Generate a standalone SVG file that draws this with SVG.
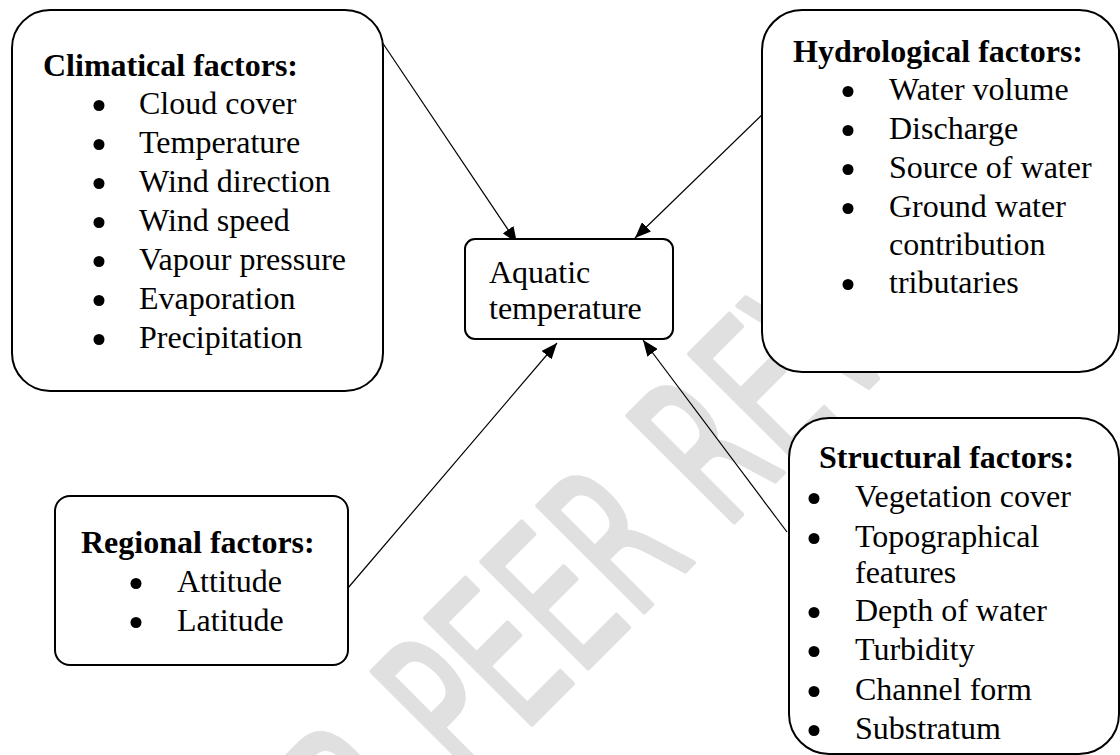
<svg xmlns="http://www.w3.org/2000/svg" width="1120" height="755" viewBox="0 0 1120 755">
<defs>
<style>
.box{fill:#fff;stroke:#000;stroke-width:2}
.t{font-family:"Liberation Serif","Times New Roman",serif;font-size:32px;fill:#000}
.b{font-weight:bold}
.dot{fill:#000}
.con{stroke:#000;stroke-width:1.2;fill:none;marker-end:url(#ah)}
.wm{font-family:"DejaVu Sans",sans-serif;font-size:206px;fill:#e0e0e0;stroke:#e0e0e0;stroke-width:5;stroke-linejoin:round}
</style>
<marker id="ah" markerUnits="userSpaceOnUse" markerWidth="17" markerHeight="13" refX="16" refY="6.5" orient="auto">
<path d="M0,0 L16,6.5 L0,13 z" fill="#000"/>
</marker>
</defs>
<rect width="1120" height="755" fill="#fff"/>
<g id="watermark">
<text class="wm" transform="translate(123,1133) rotate(-45) scale(0.61,1)">UNDER PEER REVIEW</text>
</g>
<g id="connectors">
<line class="con" x1="382" y1="42" x2="517" y2="243"/>
<line class="con" x1="770" y1="107" x2="635" y2="238"/>
<line class="con" x1="342" y1="595" x2="557" y2="343"/>
<line class="con" x1="787" y1="532" x2="643" y2="340"/>
</g>
<g id="climatical">
<rect class="box" x="12" y="10" width="371" height="381" rx="38"/>
<text class="t b" x="43" y="76">Climatical factors:</text>
<circle class="dot" cx="99" cy="105.5" r="5.5"/><text class="t" x="139" y="114">Cloud cover</text>
<circle class="dot" cx="99" cy="144.5" r="5.5"/><text class="t" x="139" y="153">Temperature</text>
<circle class="dot" cx="99" cy="183.5" r="5.5"/><text class="t" x="139" y="192">Wind direction</text>
<circle class="dot" cx="99" cy="222.5" r="5.5"/><text class="t" x="139" y="231">Wind speed</text>
<circle class="dot" cx="99" cy="261.5" r="5.5"/><text class="t" x="139" y="270">Vapour pressure</text>
<circle class="dot" cx="99" cy="300.5" r="5.5"/><text class="t" x="139" y="309">Evaporation</text>
<circle class="dot" cx="99" cy="339.5" r="5.5"/><text class="t" x="139" y="348">Precipitation</text>
</g>
<g id="aquatic">
<rect class="box" x="465" y="239" width="208" height="100" rx="10"/>
<text class="t" x="489" y="283">Aquatic</text>
<text class="t" x="489" y="319">temperature</text>
</g>
<g id="hydrological">
<rect class="box" x="762" y="10" width="357" height="362" rx="40"/>
<text class="t b" x="793" y="62">Hydrological factors:</text>
<circle class="dot" cx="848" cy="91.5" r="5.5"/><text class="t" x="889" y="100">Water volume</text>
<circle class="dot" cx="848" cy="130.5" r="5.5"/><text class="t" x="889" y="139">Discharge</text>
<circle class="dot" cx="848" cy="169.5" r="5.5"/><text class="t" x="889" y="178">Source of water</text>
<circle class="dot" cx="848" cy="208.5" r="5.5"/><text class="t" x="889" y="217">Ground water</text>
<text class="t" x="889" y="255">contribution</text>
<circle class="dot" cx="848" cy="284.5" r="5.5"/><text class="t" x="889" y="293">tributaries</text>
</g>
<g id="regional">
<rect class="box" x="55" y="496" width="293" height="169" rx="15"/>
<text class="t b" x="81" y="553">Regional factors:</text>
<circle class="dot" cx="136" cy="583.5" r="5.5"/><text class="t" x="177" y="592">Attitude</text>
<circle class="dot" cx="136" cy="622.5" r="5.5"/><text class="t" x="177" y="631">Latitude</text>
</g>
<g id="structural">
<rect class="box" x="789" y="418" width="330" height="336" rx="40"/>
<text class="t b" x="819" y="468">Structural factors:</text>
<circle class="dot" cx="814" cy="498.5" r="5.5"/><text class="t" x="855" y="507">Vegetation cover</text>
<circle class="dot" cx="814" cy="538.5" r="5.5"/><text class="t" x="855" y="547">Topographical</text>
<text class="t" x="855" y="583">features</text>
<circle class="dot" cx="814" cy="612.5" r="5.5"/><text class="t" x="855" y="621">Depth of water</text>
<circle class="dot" cx="814" cy="651.5" r="5.5"/><text class="t" x="855" y="660">Turbidity</text>
<circle class="dot" cx="814" cy="691.5" r="5.5"/><text class="t" x="855" y="700">Channel form</text>
<circle class="dot" cx="814" cy="730.5" r="5.5"/><text class="t" x="855" y="739">Substratum</text>
</g>
</svg>
